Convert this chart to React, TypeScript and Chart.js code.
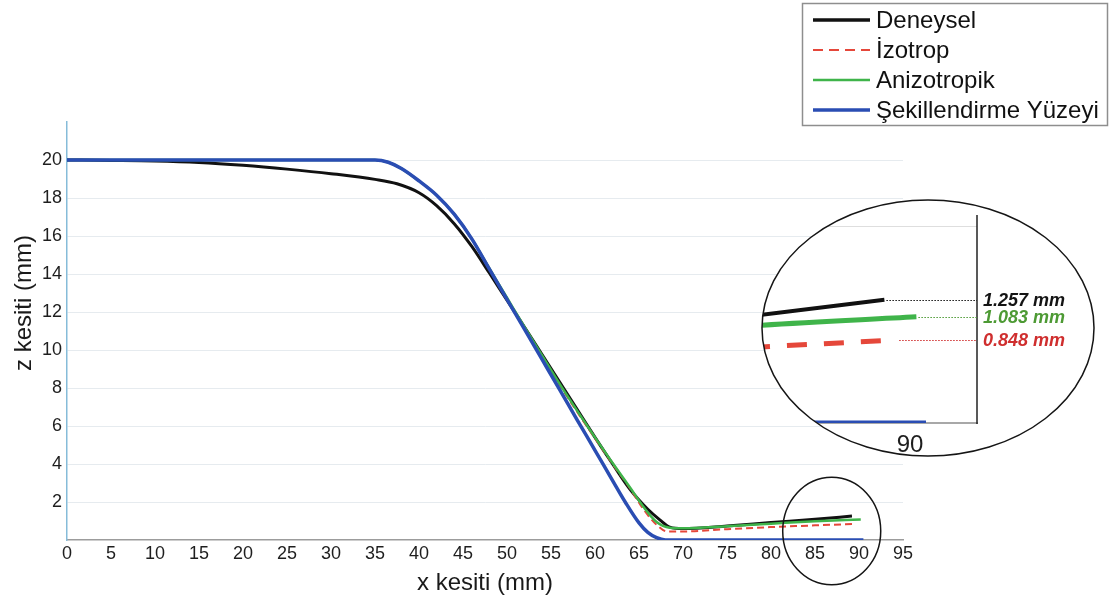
import { useEffect, useRef } from "react";
import { Chart, registerables } from "chart.js";

Chart.register(...registerables);

const FONT = '"Liberation Sans", Arial, Helvetica, sans-serif';
Chart.defaults.font.family = FONT;

// Series names (legend order)
const seriesNames = ["Deneysel", "İzotrop", "Anizotropik", "Şekillendirme Yüzeyi"];

// Deneysel (measured profile)
const deneyselX = [0, 5, 10, 15, 20, 25, 30, 35, 37.5, 40, 42, 44, 46, 48, 50, 52, 54, 56, 58, 60, 62, 64, 66, 67.4, 68.5, 70, 75, 80, 85, 89.2];
const deneyselZ = [20, 19.98, 19.95, 19.87, 19.72, 19.52, 19.28, 18.98, 18.75, 18.28, 17.6, 16.65, 15.45, 14.05, 12.62, 11.2, 9.75, 8.3, 6.85, 5.4, 4.0, 2.65, 1.62, 1.05, 0.68, 0.6, 0.74, 0.92, 1.09, 1.257];

// İzotrop (isotropic simulation)
const izotropX = [0, 35, 36.5, 38, 40, 42, 44, 46, 48, 50, 52, 54, 56, 58, 60, 62, 64, 65.5, 67, 68.2, 70, 75, 80, 85, 89.6];
const izotropZ = [20, 20, 19.88, 19.55, 18.9, 18.15, 17.15, 15.85, 14.28, 12.7, 11.15, 9.65, 8.15, 6.72, 5.35, 4.0, 2.7, 1.62, 0.8, 0.45, 0.45, 0.57, 0.68, 0.77, 0.848];

// Anizotropik (anisotropic simulation)
const anizotropikX = [0, 35, 36.5, 38, 40, 42, 44, 46, 48, 50, 52, 54, 56, 58, 60, 62, 64, 65.5, 67, 68.5, 70, 75, 80, 85, 90.2];
const anizotropikZ = [20, 20, 19.88, 19.55, 18.9, 18.15, 17.15, 15.85, 14.3, 12.75, 11.2, 9.7, 8.2, 6.78, 5.4, 4.05, 2.75, 1.75, 0.95, 0.65, 0.62, 0.73, 0.86, 0.99, 1.083];

// Şekillendirme Yüzeyi (forming surface)
const yuzeyX = [0, 35, 36.5, 38, 40, 42, 44, 46, 48, 50, 52, 54, 56, 58, 60, 62, 63.5, 65, 66, 67, 68, 90.5];
const yuzeyZ = [20, 20, 19.88, 19.55, 18.9, 18.15, 17.15, 15.85, 14.26, 12.67, 11.08, 9.49, 7.9, 6.3, 4.72, 3.13, 1.95, 0.9, 0.4, 0.12, 0, 0];

// Axis ticks
const xTickValues = [0, 5, 10, 15, 20, 25, 30, 35, 40, 45, 50, 55, 60, 65, 70, 75, 80, 85, 90, 95];
const zTickValues = [2, 4, 6, 8, 10, 12, 14, 16, 18, 20];
const xRange = [0, 95];
const zRange = [0, 22];

// Magnified window around the curve ends
const insetXTicks = [90];
const insetZGrid = [2];
const insetXRange = [85.375, 92.094];
const insetZRange = [0, 2.122];

// Ring marking the magnified region (data units)
const ringCenter = [86.9, 0.47];
const ringRadius = [5.57, 2.83];

const seriesX = [deneyselX, izotropX, anizotropikX, yuzeyX];
const seriesZ = [deneyselZ, izotropZ, anizotropikZ, yuzeyZ];

const colors = ["#111111", "#e5473a", "#3fb44a", "#2a4db3"];
const labelColors = ["#141414", "#cf2e2e", "#4d9a34", "#2a4db3"];

const toPoints = (xs: number[], zs: number[]) => xs.map((x, i) => ({ x, y: zs[i] }));

function buildDatasets(widths: number[], dash: number[]) {
  const drawOrder = [3, 2, 1, 0];
  return seriesNames.map((name, i) => ({
    label: name,
    data: toPoints(seriesX[i], seriesZ[i]),
    borderColor: colors[i],
    backgroundColor: colors[i],
    borderWidth: widths[i],
    borderDash: i === 1 ? dash : [],
    pointRadius: 0,
    fill: false,
    cubicInterpolationMode: "monotone" as const,
    order: drawOrder[i],
  }));
}

const mainDecor = {
  id: "mainDecor",
  afterDraw(chart: any) {
    const { ctx, chartArea, scales } = chart;
    const x = scales.x;
    const y = scales.y;
    ctx.save();

    // ring around the curve ends
    const cx = x.getPixelForValue(ringCenter[0]);
    const cy = y.getPixelForValue(ringCenter[1]);
    const rx = x.getPixelForValue(ringCenter[0] + ringRadius[0]) - cx;
    const ry = cy - y.getPixelForValue(ringCenter[1] + ringRadius[1]);
    ctx.beginPath();
    ctx.ellipse(cx, cy, rx, ry, 0, 0, Math.PI * 2);
    ctx.strokeStyle = "#151515";
    ctx.lineWidth = 1.5;
    ctx.stroke();

    // axis titles
    ctx.fillStyle = "#1a1a1a";
    ctx.font = `24px ${FONT}`;
    ctx.textAlign = "center";
    ctx.textBaseline = "middle";
    ctx.fillText("x kesiti (mm)", (chartArea.left + chartArea.right) / 2, 583);
    ctx.save();
    ctx.translate(24, 303);
    ctx.rotate(-Math.PI / 2);
    ctx.fillText("z kesiti (mm)", 0, 0);
    ctx.restore();

    // legend box
    const bx = 802.5, by = 3.5, bw = 305, bh = 122;
    ctx.fillStyle = "#ffffff";
    ctx.fillRect(bx, by, bw, bh);
    ctx.strokeStyle = "#8e8e8e";
    ctx.lineWidth = 1.5;
    ctx.strokeRect(bx, by, bw, bh);
    const legendWidths = [3.5, 2, 2.5, 3.5];
    ctx.font = `24px ${FONT}`;
    ctx.textAlign = "left";
    seriesNames.forEach((name, i) => {
      const ly = 20 + i * 30;
      ctx.beginPath();
      ctx.setLineDash(i === 1 ? [10, 6] : []);
      ctx.moveTo(813, ly);
      ctx.lineTo(870, ly);
      ctx.strokeStyle = colors[i];
      ctx.lineWidth = legendWidths[i];
      ctx.stroke();
      ctx.setLineDash([]);
      ctx.fillStyle = "#111";
      ctx.fillText(name, 876, ly + 1);
    });
    ctx.restore();
  },
};

// lens geometry inside the inset canvas (pixels)
const lens = { cx: 168, cy: 130, rx: 166, ry: 128 };
const notedSeries = [0, 2, 1];

const lensDecor = {
  id: "lensDecor",
  beforeDraw(chart: any) {
    const ctx = chart.ctx;
    ctx.save();
    ctx.beginPath();
    ctx.ellipse(lens.cx, lens.cy, lens.rx, lens.ry, 0, 0, Math.PI * 2);
    ctx.fillStyle = "#ffffff";
    ctx.fill();
    ctx.clip();
  },
  afterDraw(chart: any) {
    const { ctx, chartArea, scales } = chart;
    const x = scales.x;
    const y = scales.y;
    ctx.restore();
    ctx.save();

    // right frame line
    ctx.beginPath();
    ctx.moveTo(chartArea.right, chartArea.top);
    ctx.lineTo(chartArea.right, chartArea.bottom + 1);
    ctx.strokeStyle = "#222";
    ctx.lineWidth = 1.5;
    ctx.stroke();

    // leaders and end values
    ctx.font = `italic bold 18px ${FONT}`;
    ctx.textAlign = "left";
    ctx.textBaseline = "middle";
    notedSeries.forEach((s) => {
      const xs = seriesX[s];
      const zs = seriesZ[s];
      const n = xs.length - 1;
      const px = x.getPixelForValue(xs[n]);
      const py = Math.round(y.getPixelForValue(zs[n])) + 0.5;
      ctx.beginPath();
      ctx.setLineDash([1.5, 1.5]);
      ctx.moveTo(px + 2, py);
      ctx.lineTo(chartArea.right, py);
      ctx.strokeStyle = labelColors[s];
      ctx.lineWidth = 1;
      ctx.stroke();
      ctx.setLineDash([]);
      ctx.fillStyle = labelColors[s];
      ctx.fillText(`${zs[n].toFixed(3)} mm`, chartArea.right + 6, py + 1);
    });

    ctx.beginPath();
    ctx.ellipse(lens.cx, lens.cy, lens.rx, lens.ry, 0, 0, Math.PI * 2);
    ctx.strokeStyle = "#151515";
    ctx.lineWidth = 1.5;
    ctx.stroke();
    ctx.restore();
  },
};

export default function App() {
  const mainRef = useRef<HTMLCanvasElement>(null);
  const insetRef = useRef<HTMLCanvasElement>(null);

  useEffect(() => {
    const main = new Chart(mainRef.current as HTMLCanvasElement, {
      type: "line",
      data: { datasets: buildDatasets([3, 2, 2.5, 3.5], [7, 4]) as any },
      options: {
        responsive: false,
        animation: false,
        events: [],
        layout: { padding: { left: 0, top: 122, right: 210, bottom: 0 } },
        plugins: { legend: { display: false }, tooltip: { enabled: false } },
        scales: {
          x: {
            type: "linear",
            min: xRange[0],
            max: xRange[1],
            afterBuildTicks: (s: any) => {
              s.ticks = xTickValues.map((v) => ({ value: v }));
            },
            afterFit: (s: any) => {
              s.height = 64;
            },
            ticks: { font: { size: 18 }, color: "#1e1e1e", padding: 3, maxRotation: 0, autoSkip: false },
            grid: { display: false, drawTicks: false },
            border: { display: true, color: "#9c9c9c", width: 1.5 },
          },
          y: {
            type: "linear",
            min: zRange[0],
            max: zRange[1],
            afterBuildTicks: (s: any) => {
              s.ticks = zTickValues.map((v) => ({ value: v }));
            },
            afterFit: (s: any) => {
              s.width = 67;
            },
            ticks: { font: { size: 18 }, color: "#1e1e1e", padding: 5, autoSkip: false },
            grid: { color: "#e6ebef", lineWidth: 1, drawTicks: false },
            border: { display: true, color: "#86bcd9", width: 1.5 },
          },
        },
      },
      plugins: [mainDecor],
    });

    const inset = new Chart(insetRef.current as HTMLCanvasElement, {
      type: "line",
      data: { datasets: buildDatasets([4, 5, 5, 5], [20, 17]) as any },
      options: {
        responsive: false,
        animation: false,
        events: [],
        layout: { padding: { left: 2, top: 17, right: 121, bottom: 0 } },
        plugins: { legend: { display: false }, tooltip: { enabled: false } },
        scales: {
          x: {
            type: "linear",
            min: insetXRange[0],
            max: insetXRange[1],
            afterBuildTicks: (s: any) => {
              s.ticks = insetXTicks.map((v) => ({ value: v }));
            },
            afterFit: (s: any) => {
              s.height = 37;
            },
            ticks: { font: { size: 24 }, color: "#1e1e1e", padding: 8, maxRotation: 0, autoSkip: false },
            grid: { display: false, drawTicks: false },
            border: { display: true, color: "#a8a8a8", width: 2 },
          },
          y: {
            type: "linear",
            min: insetZRange[0],
            max: insetZRange[1],
            afterBuildTicks: (s: any) => {
              s.ticks = insetZGrid.map((v) => ({ value: v }));
            },
            afterFit: (s: any) => {
              s.width = 0;
            },
            ticks: { display: false },
            grid: { color: "#dedede", lineWidth: 1, drawTicks: false },
            border: { display: false },
          },
        },
      },
      plugins: [lensDecor],
    });

    return () => {
      main.destroy();
      inset.destroy();
    };
  }, []);

  return (
    <div style={{ position: "fixed", left: 0, top: 0, width: 1113, height: 604, background: "#ffffff" }}>
      <canvas ref={mainRef} width={1113} height={604} style={{ position: "absolute", left: 0, top: 0 }} />
      <canvas ref={insetRef} width={338} height={262} style={{ position: "absolute", left: 760, top: 198 }} />
    </div>
  );
}
